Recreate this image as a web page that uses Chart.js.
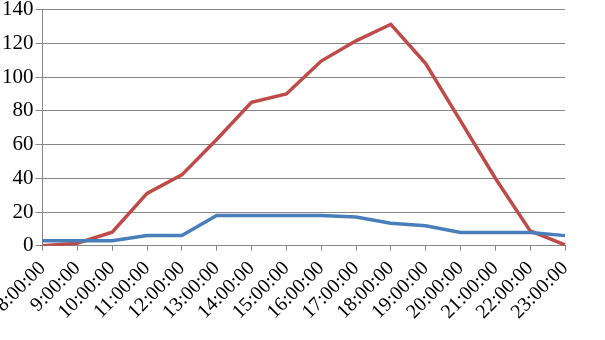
<!DOCTYPE html>
<html>
<head>
<meta charset="utf-8">
<script src="https://cdn.jsdelivr.net/npm/chart.js@4/dist/chart.umd.min.js"></script>
<style>
  html, body { margin: 0; padding: 0; background: #fff; overflow: hidden; }
  #wrap { position: relative; top: -5px; width: 605px; height: 345px; }
</style>
</head>
<body>
<div id="wrap"><canvas id="chart"></canvas></div>
<script>
const hours = ["8:00:00", "9:00:00", "10:00:00", "11:00:00", "12:00:00", "13:00:00", "14:00:00", "15:00:00",
  "16:00:00", "17:00:00", "18:00:00", "19:00:00", "20:00:00", "21:00:00", "22:00:00", "23:00:00"];
const blueSeries = [3, 3, 3, 6, 6, 18, 18, 18, 18, 17, 13.3, 11.8, 7.8, 7.8, 7.8, 6];
const redSeries = [0, 1.5, 8, 31, 42, 63, 85, 90, 109.5, 121.5, 131.3, 108, 74, 40, 8.8, 0.5];
const yTicks = { min: 0, max: 140, step: 20 };

const grey = "#868686";
const family = "'Liberation Serif', 'DejaVu Serif', serif";

new Chart(document.getElementById("chart"), {
  type: "line",
  data: {
    labels: hours,
    datasets: [
      { label: "A", data: blueSeries, borderColor: "#4A7EBB", borderWidth: 3.5, pointRadius: 0, tension: 0 },
      { label: "B", data: redSeries, borderColor: "#BE4B48", borderWidth: 3.5, pointRadius: 0, tension: 0 }
    ]
  },
  options: {
    responsive: true,
    maintainAspectRatio: false,
    animation: false,
    layout: { padding: { top: 0, right: 40, bottom: 10, left: 0 } },
    scales: {
      x: {
        offset: false,
        // first label is allowed to run off the left edge, like the original
        afterFit(scale) { scale.paddingLeft = 0; },
        grid: { drawOnChartArea: false, drawTicks: true, tickLength: 5, color: grey },
        border: { color: grey, width: 1 },
        ticks: { color: "#000", font: { family, size: 20 }, minRotation: 45, maxRotation: 45, autoSkip: false, padding: 6 }
      },
      y: {
        min: yTicks.min,
        max: yTicks.max,
        grid: { color: grey, tickLength: 7 },
        border: { color: grey, width: 1 },
        ticks: { stepSize: yTicks.step, color: "#000", font: { family, size: 21 }, padding: 2 }
      }
    },
    plugins: {
      legend: { display: false },
      tooltip: { enabled: false }
    }
  }
});
</script>
</body>
</html>
